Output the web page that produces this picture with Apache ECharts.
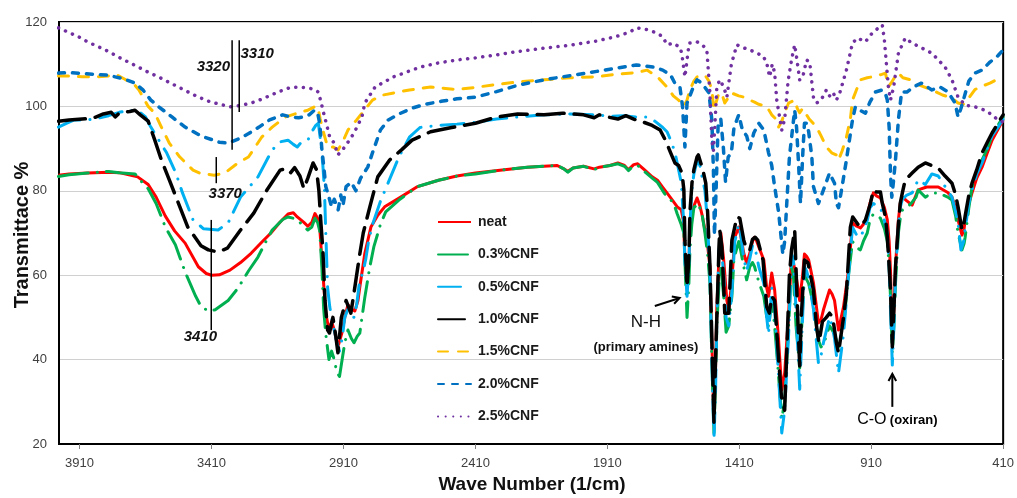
<!DOCTYPE html>
<html><head><meta charset="utf-8">
<script src="https://cdn.jsdelivr.net/npm/echarts@6/dist/echarts.min.js"></script>
<style>html,body{margin:0;padding:0;background:#fff}#c{width:1017px;height:498px}</style>
</head><body><div id="c"></div>
<script>
const waveTicks = [3910, 3410, 2910, 2410, 1910, 1410, 910, 410];
const seriesNames = ['neat', '0.3%CNF', '0.5%CNF', '1.0%CNF', '1.5%CNF', '2.0%CNF', '2.5%CNF'];

const neat = [[3990,83.7],[3950,84.0],[3880,84.2],[3800,84.4],[3760,84.3],[3690,83.3],[3650,81.5],[3620,78.5],[3585,74.0],[3550,70.5],[3510,67.6],[3460,62.0],[3430,60.4],[3410,60.0],[3380,60.1],[3340,61.2],[3300,63.0],[3260,65.2],[3220,67.8],[3185,70.0],[3150,72.6],[3120,74.5],[3100,74.8],[3085,73.8],[3060,72.5],[3045,71.6],[3030,72.5],[3018,74.6],[3008,73.5],[3000,71.4],[2992,64],[2988,60.5],[2977,51],[2965,47],[2955,49],[2945,47],[2931,43],[2916,46.3],[2905,50],[2893,53],[2880,52],[2867,51.5],[2855,54],[2848,57.2],[2829,65.2],[2806,71.4],[2780,74.2],[2754,76.2],[2693,78.5],[2629,81.0],[2550,82.5],[2480,83.5],[2410,84.2],[2300,85.0],[2213,85.6],[2150,85.8],[2100,86.0],[2075,85.2],[2060,84.6],[2040,85.4],[2000,85.8],[1960,85.2],[1940,85.6],[1900,86.0],[1870,86.6],[1845,86.0],[1830,85.0],[1810,86.2],[1795,86.4],[1770,85.0],[1740,83.3],[1720,82.5],[1700,80.8],[1684,79.5],[1660,77.5],[1645,76.2],[1630,75.5],[1622,73.0],[1616,64.3],[1608,58.2],[1601,62.0],[1597,71.5],[1590,75.0],[1582,76.4],[1570,78.3],[1559,76.4],[1550,74.0],[1540,70.7],[1530,67.0],[1521,62.0],[1514,44.6],[1506,25.0],[1500,38.0],[1495,52.5],[1487,64.3],[1480,70.0],[1469,63.6],[1457,54.0],[1450,51.8],[1438,58.8],[1427,69.0],[1412,71.4],[1405,69.5],[1393,65.2],[1382,62.9],[1370,65.2],[1360,68.0],[1352,69.0],[1345,68.2],[1336,66.7],[1317,63.6],[1306,57.0],[1299,55.0],[1287,60.5],[1276,56.5],[1261,44.6],[1249,32.8],[1238,36.8],[1223,51.0],[1212,64.5],[1205,63.0],[1195,60.0],[1181,54.0],[1170,60.0],[1163,65.0],[1155,64.5],[1147,63.6],[1129,58.2],[1110,48.7],[1100,49.5],[1091,51.8],[1068,56.5],[1058,55.5],[1049,54.0],[1034,47.0],[1015,52.5],[996,61.2],[981,72.4],[965,71.6],[951,71.2],[940,72.0],[925,74.0],[915,77.0],[902,79.5],[890,78.8],[875,78.3],[860,76.0],[849,73.1],[842,68.0],[837,61.2],[830,44.6],[824,52.0],[818,62.0],[807,73.1],[800,77.0],[792,78.5],[775,77.6],[755,76.6],[740,79.0],[732,80.2],[700,80.9],[656,80.9],[620,79.6],[604,78.5],[590,76.0],[581,73.1],[566,69.5],[558,71.0],[554,73.1],[540,77.0],[528,79.5],[510,83.0],[490,85.6],[470,89.0],[452,92.0],[430,94.5],[410,96.8]];

const cnf03 = [[3990,83.4],[3950,83.8],[3880,84.2],[3800,84.6],[3760,84.3],[3700,84.0],[3680,82.5],[3650,80.5],[3620,77.0],[3585,71.4],[3547,67.2],[3509,60.6],[3470,55.0],[3449,52.5],[3420,51.5],[3396,51.8],[3347,54.0],[3309,57.0],[3270,61.0],[3234,64.3],[3207,67.6],[3180,70.7],[3140,73.2],[3120,73.8],[3100,73.5],[3082,73.0],[3060,71.5],[3045,70.7],[3030,71.4],[3018,73.5],[3008,72.5],[3000,70.5],[2992,62],[2985,52],[2977,46],[2965,40],[2955,42],[2945,40],[2935,37],[2925,36],[2915,40],[2905,44],[2893,47],[2880,45],[2870,44],[2858,45.5],[2848,46.3],[2829,54.8],[2810,62],[2795,66.7],[2770,72],[2750,75],[2700,77.8],[2630,81.0],[2550,82.5],[2480,83.5],[2410,84.0],[2300,85.0],[2213,85.6],[2100,86.0],[2075,85.2],[2060,84.4],[2040,85.4],[2000,85.8],[1960,85.0],[1940,85.6],[1900,86.0],[1870,86.4],[1845,85.8],[1830,84.8],[1810,86.0],[1795,86.0],[1770,84.6],[1740,83.0],[1720,82.0],[1700,80.0],[1684,78.5],[1660,77.3],[1645,74.5],[1630,72.0],[1620,70.0],[1614,60.0],[1608,50.0],[1601,58.0],[1597,66.0],[1590,72.0],[1582,76.0],[1565,77.0],[1550,74.0],[1540,70.0],[1530,65.0],[1521,58.0],[1514,40.0],[1506,22.6],[1500,35.0],[1495,48.0],[1487,58.0],[1480,62.0],[1469,55.0],[1460,46.5],[1450,48.0],[1438,55.0],[1430,64.0],[1412,68.0],[1405,66.0],[1393,62.0],[1382,58.9],[1370,62.0],[1360,63.0],[1352,62.0],[1336,58.4],[1317,55.0],[1306,50.0],[1299,47.7],[1287,54.0],[1276,48.0],[1261,36.0],[1249,26.0],[1238,30.0],[1223,48.0],[1212,62.0],[1205,60.0],[1195,48.0],[1181,38.0],[1170,52.0],[1163,60.0],[1155,59.0],[1147,58.0],[1129,53.0],[1110,44.6],[1100,43.0],[1091,43.5],[1068,48.0],[1058,47.0],[1049,46.0],[1034,43.0],[1015,48.0],[996,60.0],[981,68.0],[965,66.5],[951,66.0],[940,68.0],[925,70.0],[915,73.0],[902,74.5],[890,74.2],[875,73.5],[860,71.0],[849,68.0],[842,62.0],[837,55.0],[830,41.6],[824,48.0],[818,58.0],[807,70.0],[800,73.5],[792,75.4],[775,76.0],[755,77.3],[740,78.5],[732,80.2],[705,78.5],[680,79.5],[656,79.5],[620,78.5],[604,77.8],[590,74.0],[581,70.0],[566,66.0],[558,67.5],[554,69.0],[540,76.0],[528,80.9],[510,84.0],[490,87.3],[470,90.0],[452,93.0],[430,95.5],[410,97.5]];

const cnf05 = [[3990,95.1],[3960,96.0],[3930,96.8],[3880,96.8],[3840,97.2],[3800,97.8],[3760,98.6],[3720,99.0],[3690,99.1],[3660,97.5],[3640,95.1],[3600,91.0],[3580,89.0],[3545,84.2],[3520,79.5],[3480,73.1],[3440,71.0],[3385,70.7],[3347,72.4],[3300,78.5],[3271,80.6],[3234,83.3],[3180,89.7],[3150,91.6],[3120,92.0],[3100,91.0],[3085,90.4],[3070,91.5],[3045,92.0],[3030,94.0],[3015,95.5],[3005,96.0],[2995,91],[2988,86],[2982,80.2],[2977,70],[2970,57],[2962,52.5],[2955,50],[2945,47],[2935,44],[2925,42],[2915,45],[2905,50],[2893,52],[2880,50.5],[2870,50],[2860,53],[2850,58],[2835,61],[2825,64],[2815,68],[2800,72],[2770,77.5],[2740,82],[2700,88],[2660,92.7],[2620,95.0],[2550,95.5],[2480,95.8],[2410,96.2],[2330,97.0],[2250,97.5],[2150,98.0],[2050,98.2],[1950,98.0],[1900,97.6],[1850,97.8],[1800,97.5],[1760,97.5],[1730,96.5],[1700,95.0],[1684,94.0],[1665,91.3],[1650,88.0],[1640,85.0],[1630,82.0],[1622,74.0],[1616,63.0],[1608,55.0],[1601,62.0],[1597,72.0],[1590,80.0],[1582,84.0],[1570,87.0],[1559,86.0],[1550,83.0],[1540,80.0],[1530,72.0],[1521,60.0],[1514,40.0],[1506,21.0],[1500,32.0],[1495,50.0],[1487,66.0],[1480,68.0],[1469,60.0],[1460,50.0],[1450,48.0],[1438,56.0],[1427,68.0],[1412,72.0],[1405,70.0],[1393,64.0],[1382,61.0],[1370,64.0],[1360,67.0],[1352,67.0],[1336,62.0],[1317,58.0],[1306,50.0],[1299,46.0],[1287,57.0],[1276,52.0],[1261,36.0],[1249,22.6],[1238,28.0],[1223,46.0],[1212,65.0],[1205,64.0],[1195,52.0],[1181,33.0],[1170,50.0],[1163,62.0],[1155,61.0],[1147,59.0],[1129,52.0],[1110,39.2],[1100,41.0],[1091,44.0],[1068,50.0],[1058,48.0],[1049,45.0],[1034,36.8],[1015,46.0],[996,60.0],[981,71.4],[965,69.5],[951,69.0],[940,70.5],[925,73.0],[915,76.0],[902,77.0],[890,76.5],[875,76.0],[860,73.0],[849,70.0],[842,62.0],[837,52.0],[830,38.7],[824,48.0],[818,60.0],[807,72.0],[800,76.0],[792,78.0],[775,79.0],[755,79.5],[740,81.5],[732,82.6],[705,81.5],[680,84.0],[656,83.5],[630,81.0],[604,78.5],[590,75.0],[581,72.4],[570,66.0],[560,68.0],[554,71.0],[540,77.0],[528,80.2],[510,84.0],[490,86.6],[470,90.0],[452,93.0],[430,95.0],[410,97.0]];

const cnf10 = [[3990,96.5],[3950,96.8],[3900,97.0],[3860,97.2],[3820,98.2],[3790,98.6],[3775,97.5],[3760,98.4],[3720,98.8],[3700,99.1],[3680,98.0],[3650,96.5],[3625,92.0],[3600,87.3],[3570,82.6],[3530,76.2],[3500,71.4],[3450,67.0],[3422,66.0],[3385,65.5],[3350,66.4],[3300,70.7],[3250,74.7],[3200,80.2],[3150,84.9],[3125,85.3],[3110,84.3],[3095,85.5],[3075,83.5],[3060,80.5],[3045,83.0],[3025,86.6],[3012,85.0],[3003,80.0],[2995,72.0],[2988,66.0],[2980,54.0],[2970,47.0],[2963,46.3],[2950,50.0],[2940,46.0],[2931,41.6],[2918,50.0],[2900,54.0],[2882,51.0],[2870,55.8],[2850,64.3],[2835,70.0],[2810,76.2],[2780,83.3],[2735,87.3],[2690,89.7],[2650,92.0],[2580,94.0],[2500,95.0],[2410,96.0],[2330,97.5],[2250,98.2],[2150,98.0],[2080,98.4],[2000,98.0],[1960,97.3],[1940,98.0],[1910,97.5],[1870,97.0],[1840,97.8],[1810,97.0],[1790,96.5],[1770,96.2],[1740,95.5],[1710,94.4],[1690,92.0],[1670,89.0],[1654,86.6],[1640,86.0],[1627,84.2],[1620,80.2],[1616,68.3],[1608,57.2],[1601,64.0],[1597,75.0],[1589,82.0],[1582,85.0],[1570,88.0],[1565,88.5],[1548,85.0],[1537,81.8],[1530,75.0],[1521,62.0],[1514,45.0],[1506,25.0],[1500,40.0],[1490,60.0],[1487,66.7],[1484,70.7],[1476,66.7],[1469,57.2],[1465,51.0],[1450,51.0],[1438,68.3],[1419,73.8],[1408,73.5],[1393,68.3],[1382,66.0],[1370,66.0],[1360,68.5],[1350,69.0],[1340,68.3],[1320,63.6],[1306,52.5],[1296,51.0],[1287,55.0],[1276,54.0],[1261,40.0],[1250,31.1],[1238,28.0],[1231,40.0],[1220,60.0],[1212,66.0],[1200,70.7],[1193,58.0],[1185,44.6],[1181,38.5],[1175,50.0],[1163,63.6],[1150,63.0],[1129,56.5],[1117,47.7],[1108,44.0],[1095,49.0],[1080,50.0],[1068,51.0],[1056,50.0],[1042,44.0],[1034,41.6],[1015,50.0],[1004,55.8],[989,71.4],[980,73.8],[960,72.0],[951,71.4],[932,73.1],[913,77.0],[902,80.2],[890,79.7],[875,79.7],[868,77.0],[856,73.8],[849,69.0],[842,62.0],[837,56.5],[830,43.0],[824,52.0],[818,62.0],[807,72.0],[800,77.0],[792,79.5],[781,82.6],[755,84.2],[732,85.6],[705,86.6],[656,85.4],[630,83.5],[604,81.8],[590,79.0],[581,76.2],[566,70.7],[558,72.5],[554,74.0],[540,79.0],[528,81.8],[510,85.0],[490,89.0],[470,91.5],[452,93.7],[430,96.0],[410,98.0]];

const cnf15 = [[3990,107.2],[3950,107.2],[3900,107.0],[3850,107.0],[3800,107.2],[3770,107.5],[3740,106.5],[3700,105.0],[3685,103.9],[3670,102.2],[3650,100.0],[3625,98.4],[3600,95.1],[3570,91.3],[3530,88.0],[3480,84.9],[3455,84.2],[3400,83.7],[3360,84.2],[3310,86.6],[3270,88.0],[3220,92.7],[3180,95.1],[3130,97.5],[3080,98.5],[3045,99.1],[3020,99.9],[3007,99.9],[2998,97.0],[2985,93.7],[2970,90.4],[2950,90.4],[2930,89.7],[2910,92.0],[2893,94.4],[2860,96.8],[2800,101.5],[2760,102.7],[2660,103.9],[2580,104.6],[2480,104.0],[2410,104.5],[2330,105.2],[2250,105.8],[2150,106.3],[2050,106.8],[1950,107.0],[1880,107.6],[1800,108.0],[1760,108.6],[1720,107.0],[1684,104.6],[1660,102.5],[1640,101.5],[1630,100.8],[1620,100.0],[1608,101.5],[1597,104.0],[1582,106.0],[1570,107.0],[1540,107.4],[1525,106.0],[1514,103.9],[1506,99.1],[1500,100.5],[1487,103.2],[1476,103.0],[1465,100.8],[1440,103.2],[1412,102.5],[1393,102.2],[1352,101.0],[1336,100.5],[1306,100.0],[1287,98.0],[1268,96.8],[1261,95.1],[1249,96.5],[1238,98.5],[1223,100.8],[1200,101.5],[1190,99.5],[1181,98.5],[1170,99.5],[1163,99.1],[1145,97.0],[1117,95.1],[1100,93.0],[1080,90.4],[1060,89.0],[1042,88.5],[1034,87.3],[1020,89.5],[1004,92.7],[989,97.0],[981,101.5],[951,106.3],[925,106.8],[906,107.0],[870,107.6],[856,107.9],[845,104.6],[835,105.5],[818,107.2],[807,107.9],[790,106.8],[762,106.3],[730,105.1],[680,103.9],[640,102.7],[605,102.0],[581,100.8],[560,100.5],[540,102.0],[517,104.0],[490,104.8],[460,105.5],[430,106.5],[410,107.0]];

const cnf20 = [[3990,107.9],[3950,108.0],[3900,107.8],[3850,107.6],[3800,107.4],[3775,107.0],[3740,106.5],[3700,105.5],[3670,103.9],[3640,101.5],[3610,99.9],[3560,97.5],[3510,95.1],[3450,93.0],[3380,91.5],[3347,91.3],[3300,92.5],[3271,93.5],[3230,95.1],[3190,96.8],[3140,98.0],[3110,97.5],[3080,97.3],[3060,97.5],[3040,98.0],[3020,99.1],[3008,98.5],[3000,96.0],[2992,90.0],[2985,86.0],[2977,81.0],[2965,78.5],[2955,76.2],[2945,78.0],[2930,75.5],[2920,79.0],[2912,76.5],[2900,81.0],[2880,82.0],[2863,80.0],[2845,83.0],[2818,85.6],[2800,89.0],[2770,94.4],[2740,96.8],[2700,98.2],[2650,99.6],[2600,100.5],[2540,101.2],[2480,101.8],[2410,102.2],[2330,103.5],[2250,105.0],[2150,106.3],[2050,107.3],[1950,108.3],[1880,109.0],[1800,109.8],[1760,109.5],[1730,109.3],[1700,108.6],[1670,107.4],[1654,105.5],[1635,104.6],[1625,100.0],[1616,90.4],[1608,100.8],[1597,102.5],[1582,105.0],[1570,106.3],[1552,105.5],[1540,104.5],[1525,103.2],[1514,96.8],[1508,85.0],[1504,69.5],[1498,80.0],[1490,96.0],[1480,97.0],[1470,90.0],[1462,82.0],[1452,88.0],[1440,89.0],[1430,95.0],[1412,98.0],[1398,94.4],[1382,93.0],[1370,90.0],[1355,93.7],[1336,96.0],[1317,94.4],[1299,89.0],[1287,86.0],[1276,81.0],[1261,75.0],[1245,65.0],[1238,68.0],[1231,76.0],[1220,88.0],[1204,97.0],[1200,99.1],[1193,95.1],[1185,86.0],[1178,77.0],[1170,88.0],[1163,96.0],[1155,96.0],[1147,94.0],[1135,88.0],[1129,81.0],[1110,77.0],[1091,80.2],[1068,84.2],[1049,81.8],[1042,77.0],[1034,76.0],[1023,80.0],[1004,87.3],[981,96.8],[970,99.9],[950,99.0],[932,98.4],[915,101.0],[894,103.4],[868,103.9],[856,103.0],[849,101.5],[842,95.0],[837,84.0],[832,78.5],[826,82.0],[818,87.3],[807,96.8],[795,103.4],[775,103.4],[750,104.6],[720,105.5],[680,103.9],[650,104.6],[620,103.5],[592,100.8],[581,97.5],[570,99.5],[554,103.0],[540,106.0],[517,107.9],[490,108.6],[460,110.5],[430,112.0],[410,113.4]];

const cnf25 = [[3990,118.6],[3950,117.5],[3914,116.5],[3880,115.3],[3838,114.1],[3800,113.0],[3763,111.7],[3725,110.5],[3687,109.3],[3650,108.1],[3611,107.0],[3574,105.8],[3536,104.6],[3498,103.4],[3460,102.2],[3420,101.2],[3396,100.8],[3340,99.9],[3300,100.2],[3260,100.8],[3220,101.7],[3184,102.7],[3150,103.6],[3115,104.4],[3082,104.6],[3045,104.4],[3020,104.0],[3005,103.4],[2995,101.0],[2985,98.4],[2975,96.0],[2962,92.7],[2945,91.3],[2931,88.5],[2910,90.0],[2893,91.5],[2870,93.7],[2840,97.5],[2829,100.8],[2790,104.6],[2720,107.0],[2620,109.3],[2550,110.3],[2480,111.0],[2410,111.5],[2330,112.2],[2250,113.0],[2150,113.8],[2050,114.5],[1950,115.5],[1880,116.5],[1830,117.5],[1797,118.6],[1760,118.2],[1722,117.4],[1700,116.5],[1684,114.6],[1660,115.0],[1635,114.0],[1628,112.6],[1616,107.0],[1608,111.0],[1600,115.0],[1570,115.3],[1550,114.6],[1533,113.4],[1522,104.0],[1514,92.0],[1508,89.5],[1502,96.0],[1495,104.6],[1484,106.3],[1469,104.6],[1457,102.2],[1440,110.0],[1419,114.6],[1400,114.0],[1370,113.4],[1344,112.6],[1320,112.0],[1306,110.3],[1295,107.0],[1285,110.0],[1276,108.0],[1268,101.5],[1249,94.4],[1238,97.0],[1225,106.0],[1212,111.0],[1200,114.6],[1193,111.7],[1181,106.3],[1170,106.8],[1155,111.0],[1143,110.5],[1129,102.2],[1117,100.8],[1100,101.5],[1080,103.9],[1068,102.5],[1055,103.4],[1042,101.5],[1030,103.0],[1004,108.6],[981,115.0],[962,116.2],[932,115.3],[906,117.4],[883,118.6],[868,119.3],[860,115.7],[845,104.6],[837,101.5],[825,104.6],[807,112.6],[781,116.2],[755,115.0],[705,113.4],[680,112.6],[630,109.3],[604,106.3],[581,102.2],[554,100.3],[517,99.9],[479,99.1],[452,98.0],[430,96.8],[410,96.3]];

// annotations (data coordinates)
const peakLines = [[3332, 89.7, 115.7], [3305, 98.7, 115.7], [3392, 81.8, 88.0], [3411, 47.0, 73.1]];
const peakLabels = [['3320', 3403, 109.3], ['3310', 3237, 112.4], ['3370', 3358, 79.2], ['3410', 3452, 45.3]];
const nhText = [1764, 48.9];
const nhSub = [1764, 43.0];
const nhArrow = [[1730, 52.7], [1636, 54.6]];
const coText = [811, 25.7];
const coArrow = [[830, 28.8], [830, 36.6]];

const FONT = '"Liberation Sans", Arial, sans-serif';
const chart = echarts.init(document.getElementById('c'));

function mk(name, data, color, width, dash, cap) {
  return {
    name, type: 'line', data, symbol: 'none', showSymbol: false, animation: false,
    lineStyle: { color, width, type: dash, cap: cap || 'butt', join: 'round' },
    itemStyle: { color }, emphasis: { disabled: true }
  };
}

chart.setOption({
  animation: false,
  grid: { left: 59, right: 10, top: 22, bottom: 54, show: true, borderColor: '#000', borderWidth: 2, containLabel: false },
  legend: {
    orient: 'vertical', left: 437, top: 215, padding: 0, itemWidth: 33, itemHeight: 14, itemGap: 18.4,
    selectedMode: false, data: seriesNames,
    itemStyle: { opacity: 0 },
    textStyle: { fontFamily: FONT, fontSize: 14, fontWeight: 'bold', color: '#1a1a1a', padding: [0, 0, 0, 2] }
  },
  xAxis: {
    type: 'value', min: 410, max: 3988, interval: 500, inverse: true,
    axisLine: { lineStyle: { color: '#000', width: 2 } },
    axisTick: { show: true, length: 5, lineStyle: { color: '#808080' }, customValues: waveTicks },
    axisLabel: { customValues: waveTicks, formatter: v => String(v), fontFamily: FONT, fontSize: 13, color: '#404040', margin: 13 },
    splitLine: { show: false }
  },
  yAxis: {
    type: 'value', min: 20, max: 120, interval: 20,
    axisLine: { show: true, lineStyle: { color: '#000', width: 2 } },
    axisTick: { show: false },
    axisLabel: { fontFamily: FONT, fontSize: 13, color: '#404040', margin: 12 },
    splitLine: { show: true, lineStyle: { color: '#d0d0d0', width: 1 } }
  },
  series: [
    mk(seriesNames[0], neat, '#ff0000', 3, 'solid'),
    mk(seriesNames[1], cnf03, '#00b050', 3, [30, 9, 0.1, 9], 'round'),
    mk(seriesNames[2], cnf05, '#00b0f0', 3, [23, 10, 0.1, 10], 'round'),
    mk(seriesNames[3], cnf10, '#000000', 3.5, [27, 10], 'round'),
    mk(seriesNames[4], cnf15, '#ffc000', 3, [10, 10], 'round'),
    mk(seriesNames[5], cnf20, '#0070c0', 3.5, [6, 8], 'round'),
    mk(seriesNames[6], cnf25, '#7030a0', 3.5, [0.1, 7.5], 'round')
  ]
});

const px = p => chart.convertToPixel({ gridIndex: 0 }, p);
const g = [];
peakLines.forEach(([w, a, b]) => {
  const p1 = px([w, a]), p2 = px([w, b]);
  g.push({ type: 'line', shape: { x1: p1[0], y1: p1[1], x2: p2[0], y2: p2[1] }, style: { stroke: '#000', lineWidth: 1.5 }, z: 100 });
});
peakLabels.forEach(([t, w, v]) => {
  const p = px([w, v]);
  g.push({ type: 'text', x: p[0], y: p[1], style: { text: t, fill: '#111', font: 'italic bold 15px ' + FONT, align: 'center', verticalAlign: 'middle' }, z: 100 });
});
function arrow(a, b) {
  const p1 = px(a), p2 = px(b);
  const ang = Math.atan2(p2[1] - p1[1], p2[0] - p1[0]);
  const L = 8, s = 0.5;
  g.push({ type: 'line', shape: { x1: p1[0], y1: p1[1], x2: p2[0], y2: p2[1] }, style: { stroke: '#000', lineWidth: 2 }, z: 100 });
  g.push({ type: 'polyline', shape: { points: [
    [p2[0] - L * Math.cos(ang - s), p2[1] - L * Math.sin(ang - s)], p2,
    [p2[0] - L * Math.cos(ang + s), p2[1] - L * Math.sin(ang + s)]] }, style: { stroke: '#000', lineWidth: 2, fill: null }, z: 100 });
}
arrow(nhArrow[0], nhArrow[1]);
arrow(coArrow[0], coArrow[1]);
let p = px(nhText);
g.push({ type: 'text', x: p[0], y: p[1], style: { text: 'N-H', fill: '#111', font: '17px ' + FONT, align: 'center', verticalAlign: 'middle' }, z: 100 });
p = px(nhSub);
g.push({ type: 'text', x: p[0], y: p[1], style: { text: '(primary amines)', fill: '#111', font: 'bold 13px ' + FONT, align: 'center', verticalAlign: 'middle' }, z: 100 });
p = px(coText);
g.push({ type: 'text', x: p[0], y: p[1], style: {
  text: '{a|C-O} {b|(oxiran)}', align: 'center', verticalAlign: 'middle',
  rich: { a: { fontFamily: FONT, fontSize: 16, color: '#111' }, b: { fontFamily: FONT, fontSize: 13, fontWeight: 'bold', color: '#111' } } }, z: 100 });
// axis titles
g.push({ type: 'text', x: 532, y: 485, style: { text: 'Wave Number (1/cm)', fill: '#111', font: 'bold 19px ' + FONT, align: 'center', verticalAlign: 'middle' } });
g.push({ type: 'text', x: 22, y: 235, rotation: Math.PI / 2, style: { text: 'Transmittace %', fill: '#111', font: 'bold 20px ' + FONT, align: 'center', verticalAlign: 'middle' } });
chart.setOption({ graphic: g });
</script>
</body></html>
